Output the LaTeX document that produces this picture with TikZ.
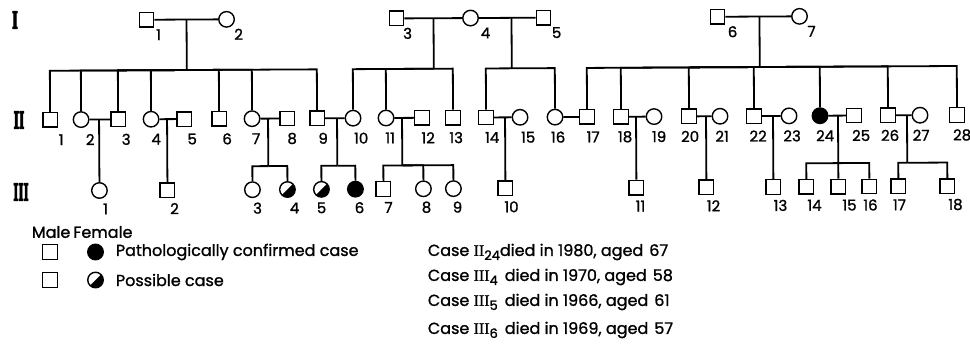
\documentclass[tikz,border=0pt]{standalone}
\usepackage{fontspec}
\newfontfamily\labfont[FakeBold=1.2]{Poppins}
\newfontfamily\numfont[FakeBold=0.8]{Liberation Serif}
\newfontfamily\genfont[BoldFeatures={FakeBold=5}]{DejaVu Serif}
\usetikzlibrary{calc}
\newcommand{\sbs}[1]{\raisebox{-4pt}{\fontsize{13}{13}\selectfont #1}}
\begin{document}
\begin{tikzpicture}[x=1pt,y=-1pt,line width=1.8pt,
  sq/.style={draw,rectangle,minimum size=14.5pt,inner sep=0pt,line width=1.4pt},
  ci/.style={draw,circle,minimum size=15.5pt,inner sep=0pt,line width=1.4pt},
  aff/.style={ci,fill=black},
  poss/.style={ci,path picture={\fill[black] (path picture bounding box.south west) -- (path picture bounding box.north east) -- (path picture bounding box.south east) -- cycle;}},
  lab/.style={font=\labfont\fontsize{15}{17}\selectfont,inner sep=0pt},
  txt/.style={font=\labfont\fontsize{16}{18}\selectfont,inner sep=0pt,anchor=west},
  gen/.style={font=\genfont\bfseries\fontsize{16}{16}\selectfont,inner sep=0pt}
]
\useasboundingbox (0,0) rectangle (970,343);
% generation labels
\node[gen] (gI) at (15,20) {\scalebox{0.8}[1.45]{I}};
\node[gen] (gII) at (19,120) {\scalebox{0.72}[1.45]{II}};
\node[gen] (gIII) at (21,192) {\scalebox{0.68}[1.45]{III}};
\begin{scope}[rotate around={0.3:(480,110)}]
% ---------- generation I ----------
\node[sq] (I1) at (147,18) {};
\node[ci] (I2) at (227,18) {};
\node[sq] (I3) at (397,18) {};
\node[ci] (I4) at (471,18) {};
\node[sq] (I5) at (544,18) {};
\node[sq] (I6) at (718,18) {};
\node[ci] (I7) at (800,18) {};
\node[lab] (lI1) at (159,33) {1};
\node[lab] (lI2) at (239,33) {2};
\node[lab] (lI3) at (408,33) {3};
\node[lab] (lI4) at (486,33) {4};
\node[lab] (lI5) at (557,33) {5};
\node[lab] (lI6) at (733,33) {6};
\node[lab] (lI7) at (812,33) {7};
\draw (I1) -- (I2);
\draw (I3) -- (I4);
\draw (I4) -- (I5);
\draw (I6) -- (I7);
\coordinate (m12) at (187,18);  \coordinate (s12) at (187,68.5);
\coordinate (m34) at (434,18);  \coordinate (s34) at (434,68.5);
\coordinate (m45) at (512,18);  \coordinate (s45) at (512,68.5);
\coordinate (m67) at (760,18);  \coordinate (s67) at (760,68.5);
\draw (m12) -- (s12);
\draw (m34) -- (s34);
\draw (m45) -- (s45);
\draw (m67) -- (s67);
% ---------- generation II ----------
\node[sq] (II1) at (50,117.5) {};
\node[ci] (II2) at (81,117.5) {};
\node[sq] (II3) at (118,117.5) {};
\node[ci] (II4) at (151,117.5) {};
\node[sq] (II5) at (184,117.5) {};
\node[sq] (II6) at (219,117.5) {};
\node[ci] (II7) at (252,117.5) {};
\node[sq] (II8) at (287,117.5) {};
\node[sq] (II9) at (317,117.5) {};
\node[ci] (II10) at (353,117.5) {};
\node[ci] (II11) at (386,117.5) {};
\node[sq] (II12) at (422,117.5) {};
\node[sq] (II13) at (453,117.5) {};
\node[sq] (II14) at (486,117.5) {};
\node[ci] (II15) at (520,117.5) {};
\node[ci] (II16) at (555,117.5) {};
\node[sq] (II17) at (587,117.5) {};
\node[sq] (II18) at (621,117.5) {};
\node[ci] (II19) at (654,117.5) {};
\node[sq] (II20) at (689,117.5) {};
\node[ci] (II21) at (720,117.5) {};
\node[sq] (II22) at (754,117.5) {};
\node[ci] (II23) at (789,117.5) {};
\node[aff] (II24) at (820,117.5) {};
\node[sq] (II25) at (854,117.5) {};
\node[sq] (II26) at (888,117.5) {};
\node[ci] (II27) at (920,117.5) {};
\node[sq] (II28) at (957,117.5) {};
\foreach \n/\x in {1/61,2/90,3/126,4/156,5/192,6/227,7/256,8/292,9/323,10/361,11/390,12/428,13/456,14/492,15/528,16/558,17/593,18/625,19/659,20/690,21/722,22/758,23/792,24/825,25/861,26/890,27/921,28/962}
  \node[lab] (lII\n) at (\x,137.5) {\n};
\foreach \c in {II1,II2,II3,II4,II6,II7,II9} \draw (s12) -| (\c.north);
\foreach \c in {II10,II11,II13} \draw (s34) -| (\c.north);
\foreach \c in {II14,II16} \draw (s45) -| (\c.north);
\foreach \c in {II17,II18,II20,II22,II24,II26,II28} \draw (s67) -| (\c.north);
\draw (II2) -- (II3);
\draw (II4) -- (II5);
\draw (II7) -- (II8);
\draw (II9) -- (II10);
\draw (II11) -- (II12);
\draw (II14) -- (II15);
\draw (II16) -- (II17);
\draw (II18) -- (II19);
\draw (II20) -- (II21);
\draw (II22) -- (II23);
\draw (II24) -- (II25);
\draw (II26) -- (II27);
% ---------- generation III ----------
\node[ci] (III1) at (99,188.5) {};
\node[sq] (III2) at (167,188.5) {};
\node[ci] (III3) at (252,188.5) {};
\node[poss] (III4) at (287,188.5) {};
\node[poss] (III5) at (321,188.5) {};
\node[aff] (III6) at (355,188.5) {};
\node[sq] (III7) at (383,188.5) {};
\node[ci] (III8) at (423,188.5) {};
\node[ci] (III9) at (453,188.5) {};
\node[sq] (III10) at (505,188.5) {};
\node[sq] (III11) at (636,188.5) {};
\node[sq] (III12) at (706,188.5) {};
\node[sq] (III13) at (773,188.5) {};
\node[sq] (III14) at (806,188.5) {};
\node[sq] (III15) at (838,188.5) {};
\node[sq] (III16) at (869,188.5) {};
\node[sq] (III17) at (898,188.5) {};
\node[sq] (III18) at (947,188.5) {};
\foreach \n/\x in {1/105,2/174,3/257,4/294,5/321,6/359,7/388,8/426,9/457,10/511,11/640,12/713,13/780,14/814,15/849,16/870,17/899,18/955}
  \node[lab] (lIII\n) at (\x,207) {\n};
\coordinate (m23) at (99,117.5);
\coordinate (m45b) at (167,117.5);
\coordinate (m78) at (268,117.5);   \coordinate (s78) at (268,165);
\coordinate (m910) at (337,117.5);  \coordinate (s910) at (337,165);
\coordinate (m1112) at (402,117.5); \coordinate (s1112) at (402,165);
\coordinate (m1415) at (505,117.5);
\coordinate (m1819) at (636,117.5);
\coordinate (m2021) at (706,117.5);
\coordinate (m2223) at (773,117.5);
\coordinate (m2425) at (838,117.5); \coordinate (s2425) at (838,165);
\coordinate (m2627) at (907,117.5); \coordinate (s2627) at (907,165);
\draw (m23) -- (III1.north);
\draw (m45b) -- (III2.north);
\draw (m1415) -- (III10.north);
\draw (m1819) -- (III11.north);
\draw (m2021) -- (III12.north);
\draw (m2223) -- (III13.north);
\draw (m78) -- (s78);
\draw (m910) -- (s910);
\draw (m1112) -- (s1112);
\draw (m2425) -- (s2425);
\draw (m2627) -- (s2627);
\foreach \c in {III3,III4} \draw (s78) -| (\c.north);
\foreach \c in {III5,III6} \draw (s910) -| (\c.north);
\foreach \c in {III7,III8,III9} \draw (s1112) -| (\c.north);
\foreach \c in {III14,III15,III16} \draw (s2425) -| (\c.north);
\foreach \c in {III17,III18} \draw (s2627) -| (\c.north);
\end{scope}
% ---------- legend ----------
\node[txt] (lmf) at (31,232) {Male\hspace{3pt}Female};
\node[sq] (k1) at (50,252) {};
\node[aff] (k2) at (95.5,252) {};
\node[txt] (k3) at (115,252) {Pathologically confirmed case};
\node[sq] (k4) at (50,280) {};
\node[poss] (k5) at (95.5,280) {};
\node[txt] (k6) at (115,280) {Possible case};
% ---------- case notes ----------
\node[txt] (c1) at (427,252) {Case {\numfont II}\sbs{24}died in 1980, aged\hspace{6pt}67};
\node[txt] (c2) at (427,277) {Case {\numfont III}\sbs{4}\hspace{7pt}died in 1970, aged\hspace{6pt}58};
\node[txt] (c3) at (427,302) {Case {\numfont III}\sbs{5}\hspace{7pt}died in 1966, aged\hspace{6pt}61};
\node[txt] (c4) at (427,330) {Case {\numfont III}\sbs{6}\hspace{7pt}died in 1969, aged\hspace{6pt}57};
\end{tikzpicture}
\end{document}
